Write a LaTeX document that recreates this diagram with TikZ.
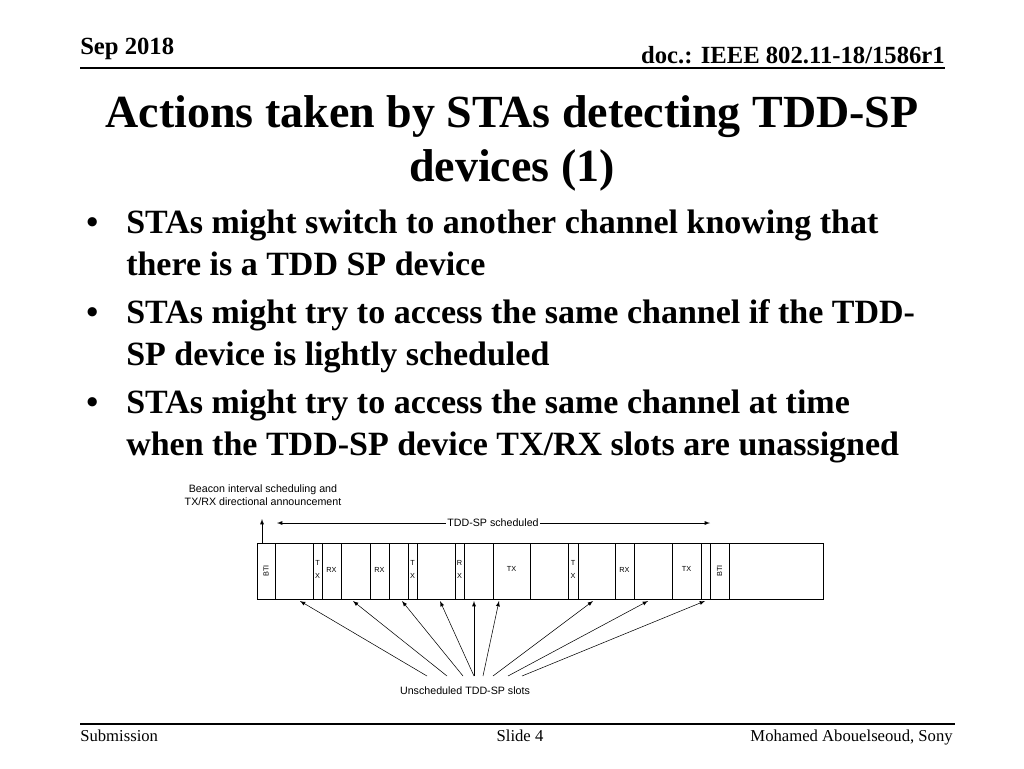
\documentclass[tikz,border=0pt]{standalone}
\usepackage{fontspec}
\setmainfont{Liberation Serif}
\newfontfamily\arial{Liberation Sans}
\begin{document}
\begin{tikzpicture}[x=0.75pt,y=-0.75pt,
  slot/.style={draw,line width=0.5pt},
  lab/.style={font=\arial\fontsize{5.5}{6}\selectfont,inner sep=0pt},
  ar/.style={-latex,line width=0.4pt},
  bul/.style={anchor=base west,font=\fontsize{25.5}{30}\selectfont\bfseries,inner sep=0pt}]
\useasboundingbox (0,0) rectangle (1024,768);
\node[anchor=base west,font=\fontsize{18.5}{20}\selectfont\bfseries,inner sep=0pt] (date) at (80,54) {Sep 2018};
\node[anchor=base east,font=\fontsize{18.5}{20}\selectfont\bfseries,inner sep=0pt] (doc) at (945,63) {doc.: IEEE 802.11-18/1586r1};
\draw[line width=0.8pt] (80,68) -- (945,68);
\node[anchor=base,font=\fontsize{34.5}{40}\selectfont\bfseries,inner sep=0pt] (t1) at (512,127) {Actions taken by STAs detecting TDD-SP};
\node[anchor=base,font=\fontsize{34.5}{40}\selectfont\bfseries,inner sep=0pt] (t2) at (512,181) {devices (1)};
\foreach \y/\t [count=\i] in {233/{STAs might switch to another channel knowing that},275/{there is a TDD SP device},323/{STAs might try to access the same channel if the TDD-},365/{SP device is lightly scheduled},413/{STAs might try to access the same channel at time},455/{when the TDD-SP device TX/RX slots are unassigned}}
  \node[bul] (b\i) at (126,\y) {\t};
\foreach \y [count=\i] in {233,323,413}
  \node[bul] (d\i) at (86,\y) {•};
% diagram
\draw[slot] (257,543) rectangle (823,599);
\foreach \a/\b/\l [count=\i] in {257/275/BTI,313/322/TX,322/341/RX,370/389/RX,408/417/TX,455/464/RX,493/530/TX,568/578/TX,615/634/RX,672/701/TX,710/729/BTI}{
  \draw[slot] (\a,543) rectangle (\b,599);
  \coordinate (s\i) at ({(\a+\b)/2},571);
}
\foreach \i in {1,11} \node[lab,rotate=90] at (s\i) {BTI};
\foreach \i in {3,4,9} \node[lab] at ([yshift=1pt]s\i) {RX};
\foreach \i in {7,10} \node[lab] at ([yshift=1.5pt]s\i) {TX};
\foreach \i/\u/\v in {2/T/X,5/T/X,6/R/X,8/T/X}{
  \node[lab] at ([yshift=6pt]s\i) {\u};
  \node[lab] at ([yshift=-4pt]s\i) {\v};
}
\node[font=\arial\fontsize{8}{10}\selectfont,align=center,inner sep=0pt] (beacon) at (263,495) {Beacon interval scheduling and\\TX/RX directional announcement};
\coordinate (bb) at (262,543); \coordinate (bt) at (262,519);
\draw[ar] (bb) -- (bt);
\node[font=\arial\fontsize{8}{10}\selectfont,inner sep=1pt] (sched) at (493,523) {TDD-SP scheduled};
\coordinate (sl) at (277,523); \coordinate (sr) at (710,523);
\draw[ar] (sched) -- (sl);
\draw[ar] (sched) -- (sr);
\node[font=\arial\fontsize{8}{10}\selectfont,inner sep=0pt] (uns) at (465,691) {Unscheduled TDD-SP slots};
\foreach \s/\e [count=\i] in {427/300,447/353,463/402,474/440,474/474,483/499,493/593,508/648,522/705}{
  \coordinate (f\i) at (\s,676); \coordinate (e\i) at (\e,601);
  \draw[ar] (f\i) -- (e\i);
}
\draw[line width=0.8pt] (80,724) -- (955,724);
\node[anchor=base west,font=\fontsize{12.5}{14}\selectfont,inner sep=0pt] (sub) at (80,741) {Submission};
\node[anchor=base,font=\fontsize{12.5}{14}\selectfont,inner sep=0pt] (slide) at (520,741) {Slide 4};
\node[anchor=base east,font=\fontsize{12.5}{14}\selectfont,inner sep=0pt] (auth) at (953,741) {Mohamed Abouelseoud, Sony};
\end{tikzpicture}
\end{document}
